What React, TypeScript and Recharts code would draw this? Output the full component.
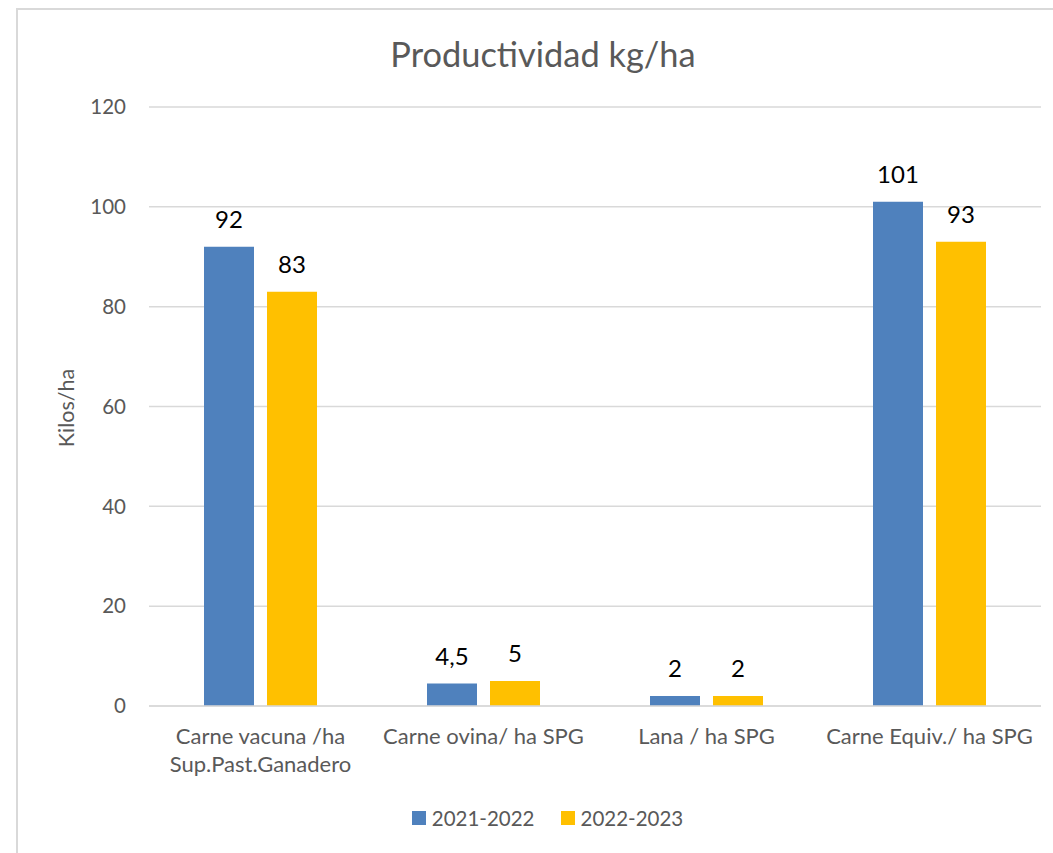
import { BarChart, Bar, XAxis, YAxis, CartesianGrid, Legend, LabelList } from 'recharts';

// categories (\n marks the line break in the axis label)
const categories = [
  'Carne vacuna /ha\nSup.Past.Ganadero',
  'Carne ovina/ ha SPG',
  'Lana / ha SPG',
  'Carne Equiv./ ha SPG',
];
const serie2122 = [92, 4.5, 2, 101];
const serie2223 = [83, 5, 2, 93];
const yTicks = [0, 20, 40, 60, 80, 100, 120];

const data = categories.map((name, i) => ({
  name,
  s2122: serie2122[i],
  s2223: serie2223[i],
}));

const FONT = 'Lato, "Open Sans", sans-serif';
const GREY = '#595959';

const fmt = (v: any) => String(v).replace('.', ',');

function CategoryTick(props: any) {
  const { x, y, payload } = props;
  const lines = String(payload.value).split('\n');
  return (
    <text x={x} y={y} textAnchor="middle" fill={GREY} fontSize={22} fontFamily={FONT}>
      {lines.map((l, i) => (
        <tspan key={i} x={x} dy={i === 0 ? 30 : 28}>
          {l}
        </tspan>
      ))}
    </text>
  );
}

function LegendContent(props: any) {
  const { payload } = props;
  return (
    <div style={{ display: 'flex', justifyContent: 'center', gap: 26, fontFamily: FONT, fontSize: 20.5, color: GREY }}>
      {(payload || []).map((p: any) => (
        <div key={p.value} style={{ display: 'flex', alignItems: 'center' }}>
          <span style={{ display: 'inline-block', width: 14, height: 14, background: p.color, marginRight: 6 }} />
          <span>{p.value}</span>
        </div>
      ))}
    </div>
  );
}

export default function App() {
  return (
    <div style={{ position: 'fixed', left: 0, top: 0, width: 1053, height: 853, overflow: 'hidden', background: '#fff' }}>
      <div
        style={{
          position: 'absolute',
          left: 16,
          top: 8,
          width: 1100,
          height: 900,
          border: '2px solid #d9d9d9',
        }}
      />
      <div
        style={{
          position: 'absolute',
          left: 293,
          width: 500,
          top: 34,
          textAlign: 'center',
          fontFamily: FONT,
          fontSize: 34.4,
          color: GREY,
          lineHeight: '40px',
        }}
      >
        Productividad kg/ha
      </div>
      <div
        style={{
          position: 'absolute',
          left: 66 - 60,
          top: 408 - 14,
          width: 120,
          height: 28,
          lineHeight: '28px',
          textAlign: 'center',
          transform: 'rotate(-90deg)',
          fontFamily: FONT,
          fontSize: 21.5,
          color: GREY,
        }}
      >
        Kilos/ha
      </div>
      <div style={{ position: 'absolute', left: 0, top: 0 }}>
        <BarChart
          width={1053}
          height={853}
          data={data}
          margin={{ top: 107, right: 12, bottom: 63, left: 89 }}
          barGap={13}
          barSize={50}
        >
          <CartesianGrid vertical={false} stroke="#d9d9d9" strokeWidth={1.5} />
          <XAxis
            dataKey="name"
            height={60}
            interval={0}
            tickLine={false}
            axisLine={{ stroke: '#d9d9d9', strokeWidth: 1.5 }}
            tick={<CategoryTick />}
          />
          <YAxis
            width={60}
            domain={[0, 120]}
            ticks={yTicks}
            tickLine={false}
            axisLine={false}
            tickMargin={17}
            tick={{ fill: GREY, fontSize: 20.5, fontFamily: FONT }}
          />
          <Legend
            verticalAlign="bottom"
            align="center"
            wrapperStyle={{ bottom: 23, left: 0, width: 1095 }}
            content={<LegendContent />}
          />
          <Bar dataKey="s2122" name="2021-2022" fill="#4f81bd" isAnimationActive={false}>
            <LabelList dataKey="s2122" position="top" offset={19} fill="#000" fontSize={24} fontFamily={FONT} formatter={fmt} />
          </Bar>
          <Bar dataKey="s2223" name="2022-2023" fill="#ffc000" isAnimationActive={false}>
            <LabelList dataKey="s2223" position="top" offset={19} fill="#000" fontSize={24} fontFamily={FONT} formatter={fmt} />
          </Bar>
        </BarChart>
      </div>
    </div>
  );
}
